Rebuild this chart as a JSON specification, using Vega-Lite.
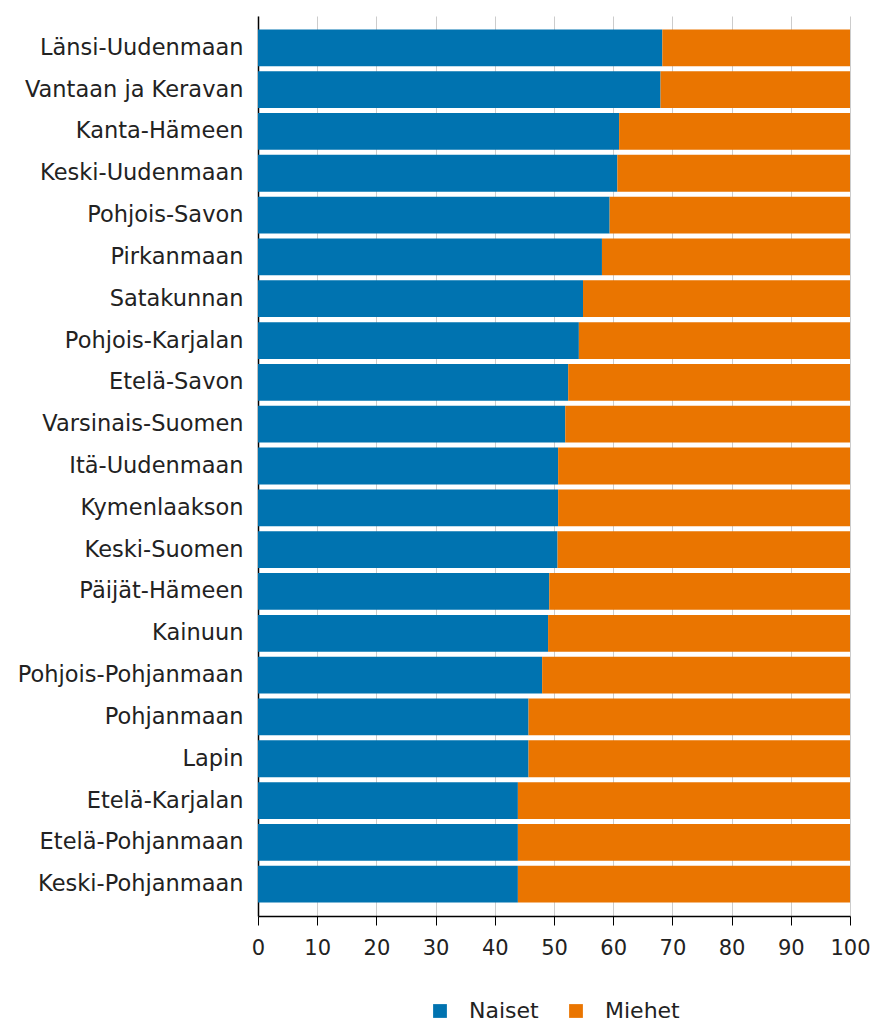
{
  "$schema": "https://vega.github.io/schema/vega-lite/v6.json",
  "width": 592,
  "height": 900,
  "autosize": {"type": "none"},
  "padding": {"left": 258, "top": 16, "right": 24, "bottom": 107},
  "background": "white",
  "config": {
    "font": "DejaVu Sans",
    "view": {"stroke": null},
    "legend": {"layout": {"bottom": {"anchor": "middle"}}}
  },
  "data": {
    "values": [
      {"alue": "Länsi-Uudenmaan", "sukupuoli": "Naiset", "o": 1, "osuus": 68.3},
      {"alue": "Länsi-Uudenmaan", "sukupuoli": "Miehet", "o": 2, "osuus": 31.7},
      {"alue": "Vantaan ja Keravan", "sukupuoli": "Naiset", "o": 1, "osuus": 68.0},
      {"alue": "Vantaan ja Keravan", "sukupuoli": "Miehet", "o": 2, "osuus": 32.0},
      {"alue": "Kanta-Hämeen", "sukupuoli": "Naiset", "o": 1, "osuus": 61.0},
      {"alue": "Kanta-Hämeen", "sukupuoli": "Miehet", "o": 2, "osuus": 39.0},
      {"alue": "Keski-Uudenmaan", "sukupuoli": "Naiset", "o": 1, "osuus": 60.7},
      {"alue": "Keski-Uudenmaan", "sukupuoli": "Miehet", "o": 2, "osuus": 39.3},
      {"alue": "Pohjois-Savon", "sukupuoli": "Naiset", "o": 1, "osuus": 59.4},
      {"alue": "Pohjois-Savon", "sukupuoli": "Miehet", "o": 2, "osuus": 40.6},
      {"alue": "Pirkanmaan", "sukupuoli": "Naiset", "o": 1, "osuus": 58.1},
      {"alue": "Pirkanmaan", "sukupuoli": "Miehet", "o": 2, "osuus": 41.9},
      {"alue": "Satakunnan", "sukupuoli": "Naiset", "o": 1, "osuus": 54.9},
      {"alue": "Satakunnan", "sukupuoli": "Miehet", "o": 2, "osuus": 45.1},
      {"alue": "Pohjois-Karjalan", "sukupuoli": "Naiset", "o": 1, "osuus": 54.2},
      {"alue": "Pohjois-Karjalan", "sukupuoli": "Miehet", "o": 2, "osuus": 45.8},
      {"alue": "Etelä-Savon", "sukupuoli": "Naiset", "o": 1, "osuus": 52.4},
      {"alue": "Etelä-Savon", "sukupuoli": "Miehet", "o": 2, "osuus": 47.6},
      {"alue": "Varsinais-Suomen", "sukupuoli": "Naiset", "o": 1, "osuus": 51.9},
      {"alue": "Varsinais-Suomen", "sukupuoli": "Miehet", "o": 2, "osuus": 48.1},
      {"alue": "Itä-Uudenmaan", "sukupuoli": "Naiset", "o": 1, "osuus": 50.7},
      {"alue": "Itä-Uudenmaan", "sukupuoli": "Miehet", "o": 2, "osuus": 49.3},
      {"alue": "Kymenlaakson", "sukupuoli": "Naiset", "o": 1, "osuus": 50.7},
      {"alue": "Kymenlaakson", "sukupuoli": "Miehet", "o": 2, "osuus": 49.3},
      {"alue": "Keski-Suomen", "sukupuoli": "Naiset", "o": 1, "osuus": 50.6},
      {"alue": "Keski-Suomen", "sukupuoli": "Miehet", "o": 2, "osuus": 49.4},
      {"alue": "Päijät-Hämeen", "sukupuoli": "Naiset", "o": 1, "osuus": 49.2},
      {"alue": "Päijät-Hämeen", "sukupuoli": "Miehet", "o": 2, "osuus": 50.8},
      {"alue": "Kainuun", "sukupuoli": "Naiset", "o": 1, "osuus": 49.0},
      {"alue": "Kainuun", "sukupuoli": "Miehet", "o": 2, "osuus": 51.0},
      {"alue": "Pohjois-Pohjanmaan", "sukupuoli": "Naiset", "o": 1, "osuus": 48.0},
      {"alue": "Pohjois-Pohjanmaan", "sukupuoli": "Miehet", "o": 2, "osuus": 52.0},
      {"alue": "Pohjanmaan", "sukupuoli": "Naiset", "o": 1, "osuus": 45.7},
      {"alue": "Pohjanmaan", "sukupuoli": "Miehet", "o": 2, "osuus": 54.3},
      {"alue": "Lapin", "sukupuoli": "Naiset", "o": 1, "osuus": 45.7},
      {"alue": "Lapin", "sukupuoli": "Miehet", "o": 2, "osuus": 54.3},
      {"alue": "Etelä-Karjalan", "sukupuoli": "Naiset", "o": 1, "osuus": 43.9},
      {"alue": "Etelä-Karjalan", "sukupuoli": "Miehet", "o": 2, "osuus": 56.1},
      {"alue": "Etelä-Pohjanmaan", "sukupuoli": "Naiset", "o": 1, "osuus": 43.9},
      {"alue": "Etelä-Pohjanmaan", "sukupuoli": "Miehet", "o": 2, "osuus": 56.1},
      {"alue": "Keski-Pohjanmaan", "sukupuoli": "Naiset", "o": 1, "osuus": 43.9},
      {"alue": "Keski-Pohjanmaan", "sukupuoli": "Miehet", "o": 2, "osuus": 56.1}
    ]
  },
  "mark": {"type": "bar"},
  "encoding": {
    "y": {
      "field": "alue",
      "type": "nominal",
      "sort": null,
      "title": null,
      "scale": {"paddingInner": 0.12, "paddingOuter": 0.32},
      "axis": {
        "ticks": false,
        "domainColor": "#000000",
        "domainWidth": 1.5,
        "labelFontSize": 22.5,
        "labelColor": "#222222",
        "labelPadding": 15,
        "labelLimit": 400,
        "grid": false
      }
    },
    "x": {
      "field": "osuus",
      "type": "quantitative",
      "stack": "zero",
      "title": null,
      "scale": {"domain": [0, 100], "nice": false},
      "axis": {
        "values": [0, 10, 20, 30, 40, 50, 60, 70, 80, 90, 100],
        "grid": true,
        "gridColor": "#cccccc",
        "gridWidth": 1,
        "domainColor": "#000000",
        "domainWidth": 1.5,
        "tickColor": "#000000",
        "tickSize": 9,
        "labelFontSize": 21,
        "labelColor": "#222222",
        "labelPadding": 12,
        "labelFlush": false
      }
    },
    "color": {
      "field": "sukupuoli",
      "type": "nominal",
      "title": null,
      "scale": {"domain": ["Naiset", "Miehet"], "range": ["#0073b0", "#ea7500"]},
      "legend": {
        "orient": "bottom",
        "direction": "horizontal",
        "symbolType": "square",
        "symbolSize": 190,
        "symbolStrokeWidth": 0,
        "labelFontSize": 22,
        "labelColor": "#222222",
        "labelOffset": 18,
        "columnPadding": 26,
        "offset": 42
      }
    },
    "order": {"field": "o", "type": "quantitative"}
  }
}
